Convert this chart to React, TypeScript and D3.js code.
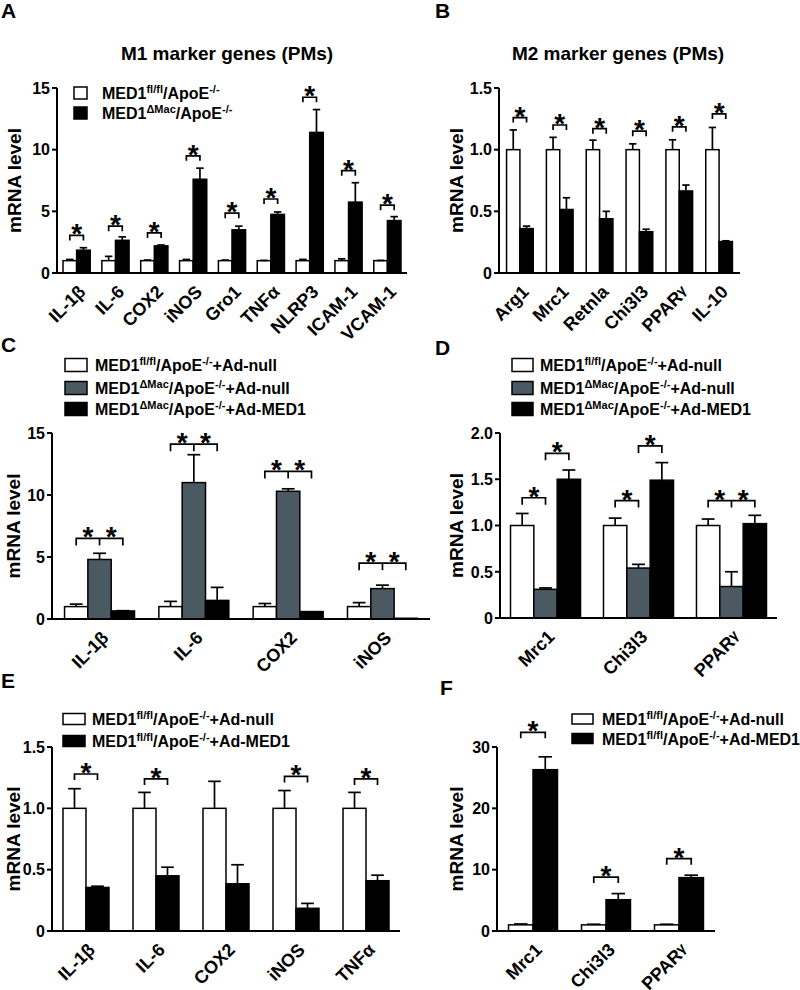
import React from "react";
import * as d3 from "d3";

// ---------------- Data ----------------
// Panel A: M1 marker genes (PMs)
const catsA = ["IL-1β", "IL-6", "COX2", "iNOS", "Gro1", "TNFα", "NLRP3", "ICAM-1", "VCAM-1"];
const aCtrl = [1, 1, 1, 1, 1, 1, 1, 1, 1];
const aCtrlErr = [0.1, 0.35, 0.05, 0.1, 0.05, 0.02, 0.1, 0.15, 0.02];
const aKO = [1.85, 2.65, 2.2, 7.6, 3.5, 4.75, 11.4, 5.75, 4.25];
const aKOErr = [0.2, 0.28, 0.07, 0.9, 0.3, 0.2, 1.85, 1.57, 0.32];
const aSig = [3.05, 3.8, 3.25, 9.5, 4.85, 6.0, 14.25, 8.3, 5.5];
const ticksA = [0, 5, 10, 15];

// Panel B: M2 marker genes (PMs)
const catsB = ["Arg1", "Mrc1", "Retnla", "Chi3l3", "PPARγ", "IL-10"];
const bCtrl = [1, 1, 1, 1, 1, 1];
const bCtrlErr = [0.16, 0.1, 0.077, 0.047, 0.08, 0.18];
const bKO = [0.36, 0.515, 0.44, 0.335, 0.665, 0.255];
const bKOErr = [0.02, 0.095, 0.06, 0.02, 0.048, 0.006];
const bSig = [1.26, 1.2, 1.17, 1.15, 1.185, 1.29];
const ticksB = [0, 0.5, 1.0, 1.5];

// Panel C
const catsC = ["IL-1β", "IL-6", "COX2", "iNOS"];
const cCtrl = [1, 1, 1, 1];
const cCtrlErr = [0.2, 0.42, 0.25, 0.32];
const cKO = [4.8, 11.0, 10.3, 2.45];
const cKOErr = [0.5, 2.25, 0.2, 0.28];
const cRescue = [0.65, 1.5, 0.6, 0.06];
const cRescueErr = [0.02, 1.05, 0.0, 0.0];
const cSig = [6.5, 14.1, 11.9, 4.5];
const ticksC = [0, 5, 10, 15];

// Panel D
const catsD = ["Mrc1", "Chi3l3", "PPARγ"];
const dCtrl = [1, 1, 1];
const dCtrlErr = [0.13, 0.08, 0.07];
const dKO = [0.31, 0.54, 0.34];
const dKOErr = [0.015, 0.04, 0.16];
const dRescue = [1.5, 1.49, 1.02];
const dRescueErr = [0.1, 0.19, 0.09];
const dSigLow = [1.3, 1.27, 1.27];
const dSigHigh = [1.78, 1.86, null];
const ticksD = [0, 0.5, 1.0, 1.5, 2.0];

// Panel E
const catsE = ["IL-1β", "IL-6", "COX2", "iNOS", "TNFα"];
const eNull = [1, 1, 1, 1, 1];
const eNullErr = [0.16, 0.13, 0.22, 0.145, 0.13];
const eMED1 = [0.355, 0.45, 0.385, 0.185, 0.41];
const eMED1Err = [0.01, 0.07, 0.155, 0.04, 0.045];
const eSig = [1.28, 1.24, null, 1.26, 1.24];
const ticksE = [0, 0.5, 1.0, 1.5];

// Panel F
const catsF = ["Mrc1", "Chi3l3", "PPARγ"];
const fNull = [1, 1, 1];
const fNullErr = [0.15, 0.1, 0.1];
const fMED1 = [26.3, 5.1, 8.7];
const fMED1Err = [2.1, 1.0, 0.4];
const fSig = [32.4, 8.8, 11.8];
const ticksF = [0, 10, 20, 30];

// ---------------- Styles ----------------
const FONT = "'Liberation Sans', Arial, Helvetica, sans-serif";
const WHITE = "#ffffff";
const GRAY = "#4b5a62";
const BLACK = "#000000";

type Series = { values: number[]; errs: number[]; fill: string };
type Bracket = { g: number; a: number; b: number; mid?: number; level: number };
type Part = string | { sup: string };

const lblCtrl: Part[] = ["MED1", { sup: "fl/fl" }, "/ApoE", { sup: "-/-" }];
const lblKO: Part[] = ["MED1", { sup: "ΔMac" }, "/ApoE", { sup: "-/-" }];
const lblCnull: Part[] = [...lblCtrl, "+Ad-null"];
const lblKOnull: Part[] = [...lblKO, "+Ad-null"];
const lblKOmed: Part[] = [...lblKO, "+Ad-MED1"];
const lblCmed: Part[] = [...lblCtrl, "+Ad-MED1"];

function RichText({ parts, x, y, size }: { parts: Part[]; x: number; y: number; size: number }) {
  const supSize = Math.round(size * 0.68);
  const rise = Math.round(size * 0.38);
  let raised = false;
  return (
    <text x={x} y={y} fontFamily={FONT} fontWeight="bold" fontSize={size} fill="#000">
      {parts.map((p, i) => {
        if (typeof p === "string") {
          const dy = raised ? rise : 0;
          raised = false;
          return (
            <tspan key={i} dy={dy} fontSize={size}>
              {p}
            </tspan>
          );
        }
        const dy = raised ? 0 : -rise;
        raised = true;
        return (
          <tspan key={i} dy={dy} fontSize={supSize}>
            {p.sup}
          </tspan>
        );
      })}
    </text>
  );
}

function Legend({
  x, rows, fills, textX, boxW, boxH,
  labels,
}: {
  x: number; rows: number[]; fills: string[]; textX: number; boxW: number; boxH: number; labels: Part[][];
}) {
  return (
    <g>
      {rows.map((cy, i) => (
        <g key={i}>
          <rect x={x} y={cy - boxH / 2} width={boxW} height={boxH} fill={fills[i]} stroke="#000" strokeWidth={1.5} />
          <RichText parts={labels[i]} x={textX} y={cy + 6} size={16} />
        </g>
      ))}
    </g>
  );
}

type PanelProps = {
  x0: number; x1: number; y0: number; yTop: number; max: number;
  ticks: number[]; fmt: (v: number) => string;
  cats: string[]; series: Series[]; brackets: Bracket[];
  padIn: number; padOut: number; ylabelX: number; legOffset?: number;
};

function CatLabel({ text }: { text: string }) {
  // γ drawn slightly smaller and raised, as in the reference
  const i = text.indexOf("γ");
  if (i < 0) return <>{text}</>;
  return (
    <>
      {text.slice(0, i)}
      <tspan fontSize={14} dy={-3}>γ</tspan>
    </>
  );
}

function Panel(p: PanelProps) {
  const y = d3.scaleLinear().domain([0, p.max]).range([p.y0, p.yTop]);
  const x = d3.scaleBand<string>().domain(p.cats).range([p.x0, p.x1]).paddingInner(p.padIn).paddingOuter(p.padOut);
  const xs = d3.scaleBand<number>().domain(d3.range(p.series.length)).range([0, x.bandwidth()]);
  const bw = xs.bandwidth();
  const cx = (g: number, s: number) => (x(p.cats[g]) as number) + (xs(s) as number) + bw / 2;
  const cap = bw * 0.55;
  const leg = p.legOffset ?? 6;
  return (
    <g>
      {/* bars */}
      {p.series.map((s, si) =>
        s.values.map((v, gi) => {
          const bx = (x(p.cats[gi]) as number) + (xs(si) as number);
          const top = y(v);
          return (
            <rect key={`b${si}-${gi}`} x={bx} y={top} width={bw} height={Math.max(0.5, p.y0 - top)}
              fill={s.fill} stroke="#000" strokeWidth={1.5} />
          );
        })
      )}
      {/* error bars */}
      {p.series.map((s, si) =>
        s.values.map((v, gi) => {
          const e = s.errs[gi];
          if (!e) return null;
          const c = cx(gi, si);
          const t = y(v + e);
          return (
            <g key={`e${si}-${gi}`} stroke="#000" strokeWidth={1.7}>
              <line x1={c} x2={c} y1={y(v)} y2={t} />
              <line x1={c - cap / 2} x2={c + cap / 2} y1={t} y2={t} />
            </g>
          );
        })
      )}
      {/* axes */}
      <line x1={p.x0} x2={p.x0} y1={p.y0 + 1} y2={p.yTop} stroke="#000" strokeWidth={2} />
      <line x1={p.x0} x2={p.x1} y1={p.y0} y2={p.y0} stroke="#000" strokeWidth={2} />
      {p.ticks.map((t) => (
        <g key={`t${t}`}>
          <line x1={p.x0 - 5} x2={p.x0} y1={y(t)} y2={y(t)} stroke="#000" strokeWidth={2} />
          <text x={p.x0 - 7} y={y(t)} dy="0.36em" textAnchor="end" fontFamily={FONT} fontWeight="bold" fontSize={16}>
            {p.fmt(t)}
          </text>
        </g>
      ))}
      {/* category labels */}
      {p.cats.map((c, gi) => {
        const center = (x(c) as number) + x.bandwidth() / 2;
        const ax = center + 10;
        const ay = p.y0 + 20;
        return (
          <text key={`c${gi}`} transform={`translate(${ax},${ay}) rotate(-45)`} textAnchor="end"
            fontFamily={FONT} fontWeight="bold" fontSize={18}>
            <CatLabel text={c} />
          </text>
        );
      })}
      {/* y label */}
      <text transform={`translate(${p.ylabelX},${(p.y0 + p.yTop) / 2}) rotate(-90)`} textAnchor="middle"
        fontFamily={FONT} fontWeight="bold" fontSize={19}>
        mRNA level
      </text>
      {/* significance brackets */}
      {p.brackets.map((b, i) => {
        const xa = cx(b.g, b.a);
        const xb = cx(b.g, b.b);
        const yb = y(b.level);
        const stars = b.mid !== undefined
          ? [(xa + cx(b.g, b.mid)) / 2, (cx(b.g, b.mid) + xb) / 2]
          : [(xa + xb) / 2];
        return (
          <g key={`s${i}`}>
            <path d={`M${xa},${yb + leg}V${yb}H${xb}V${yb + leg}`} fill="none" stroke="#000" strokeWidth={1.7} />
            {b.mid !== undefined && (
              <line x1={cx(b.g, b.mid)} x2={cx(b.g, b.mid)} y1={yb} y2={yb + leg} stroke="#000" strokeWidth={1.7} />
            )}
            {stars.map((sx, k) => (
              <text key={k} x={sx} y={yb + 8} textAnchor="middle" fontFamily={FONT} fontWeight="bold" fontSize={28}>
                *
              </text>
            ))}
          </g>
        );
      })}
    </g>
  );
}

const fmtInt = (v: number) => d3.format("d")(v);
const fmt1 = (v: number) => (v === 0 ? "0" : d3.format(".1f")(v));

function pairBrackets(levels: (number | null)[]): Bracket[] {
  const out: Bracket[] = [];
  levels.forEach((l, g) => {
    if (l !== null) out.push({ g, a: 0, b: 1, level: l });
  });
  return out;
}

function PanelLetter({ x, y, t }: { x: number; y: number; t: string }) {
  return (
    <text x={x} y={y} fontFamily={FONT} fontWeight="bold" fontSize={21}>
      {t}
    </text>
  );
}

export default function App() {
  const dBrackets: Bracket[] = [];
  dSigLow.forEach((l, g) => {
    if (dSigHigh[g] === null) dBrackets.push({ g, a: 0, b: 2, mid: 1, level: l });
    else dBrackets.push({ g, a: 0, b: 1, level: l });
  });
  dSigHigh.forEach((l, g) => {
    if (l !== null) dBrackets.push({ g, a: 1, b: 2, level: l });
  });
  const cBrackets: Bracket[] = cSig.map((l, g) => ({ g, a: 0, b: 2, mid: 1, level: l }));

  return (
    <svg width={800} height={990} viewBox="0 0 800 990"
      style={{ position: "absolute", left: 0, top: 0, display: "block", background: "#fff" }}>
      <rect x={0} y={0} width={800} height={990} fill="#fff" />

      {/* A */}
      <PanelLetter x={1} y={18} t="A" />
      <text x={227} y={60} textAnchor="middle" fontFamily={FONT} fontWeight="bold" fontSize={19}>
        M1 marker genes (PMs)
      </text>
      <Panel x0={57} x1={407} y0={273} yTop={88} max={15} ticks={ticksA} fmt={fmtInt} cats={catsA}
        series={[
          { values: aCtrl, errs: aCtrlErr, fill: WHITE },
          { values: aKO, errs: aKOErr, fill: BLACK },
        ]}
        brackets={pairBrackets(aSig)} padIn={0.3} padOut={0.155} ylabelX={21} legOffset={5} />
      <Legend x={74} rows={[93, 113]} fills={[WHITE, BLACK]} textX={102} boxW={13} boxH={12}
        labels={[lblCtrl, lblKO]} />

      {/* B */}
      <PanelLetter x={435} y={18} t="B" />
      <text x={618} y={60} textAnchor="middle" fontFamily={FONT} fontWeight="bold" fontSize={19}>
        M2 marker genes (PMs)
      </text>
      <Panel x0={499} x1={740} y0={273} yTop={88} max={1.5} ticks={ticksB} fmt={fmt1} cats={catsB}
        series={[
          { values: bCtrl, errs: bCtrlErr, fill: WHITE },
          { values: bKO, errs: bKOErr, fill: BLACK },
        ]}
        brackets={pairBrackets(bSig)} padIn={0.33} padOut={0.19} ylabelX={463} legOffset={5} />

      {/* C */}
      <PanelLetter x={1} y={352} t="C" />
      <Legend x={65} rows={[365, 388, 409]} fills={[WHITE, GRAY, BLACK]} textX={95} boxW={22} boxH={13}
        labels={[lblCnull, lblKOnull, lblKOmed]} />
      <Panel x0={52} x1={430} y0={619} yTop={433} max={15} ticks={ticksC} fmt={fmtInt} cats={catsC}
        series={[
          { values: cCtrl, errs: cCtrlErr, fill: WHITE },
          { values: cKO, errs: cKOErr, fill: GRAY },
          { values: cRescue, errs: cRescueErr, fill: BLACK },
        ]}
        brackets={cBrackets} padIn={0.258} padOut={0.133} ylabelX={20} legOffset={7} />

      {/* D */}
      <PanelLetter x={435} y={355} t="D" />
      <Legend x={512} rows={[365, 388, 409]} fills={[WHITE, GRAY, BLACK]} textX={540} boxW={21} boxH={13}
        labels={[lblCnull, lblKOnull, lblKOmed]} />
      <Panel x0={500} x1={777} y0={618} yTop={433} max={2} ticks={ticksD} fmt={fmt1} cats={catsD}
        series={[
          { values: dCtrl, errs: dCtrlErr, fill: WHITE },
          { values: dKO, errs: dKOErr, fill: GRAY },
          { values: dRescue, errs: dRescueErr, fill: BLACK },
        ]}
        brackets={dBrackets} padIn={0.247} padOut={0.113} ylabelX={463} legOffset={7} />

      {/* E */}
      <PanelLetter x={1} y={688} t="E" />
      <Legend x={63} rows={[719, 741]} fills={[WHITE, BLACK]} textX={92} boxW={22} boxH={11}
        labels={[lblCnull, lblCmed]} />
      <Panel x0={52} x1={400} y0={931} yTop={747} max={1.5} ticks={ticksE} fmt={fmt1} cats={catsE}
        series={[
          { values: eNull, errs: eNullErr, fill: WHITE },
          { values: eMED1, errs: eMED1Err, fill: BLACK },
        ]}
        brackets={pairBrackets(eSig)} padIn={0.343} padOut={0.157} ylabelX={20} legOffset={6} />

      {/* F */}
      <PanelLetter x={440} y={695} t="F" />
      <Legend x={572} rows={[719, 738.5]} fills={[WHITE, BLACK]} textX={602} boxW={21} boxH={10}
        labels={[lblCnull, lblCmed]} />
      <Panel x0={497} x1={715} y0={931} yTop={747} max={30} ticks={ticksF} fmt={fmtInt} cats={catsF}
        series={[
          { values: fNull, errs: fNullErr, fill: WHITE },
          { values: fMED1, errs: fMED1Err, fill: BLACK },
        ]}
        brackets={pairBrackets(fSig)} padIn={0.329} padOut={0.158} ylabelX={463} legOffset={6} />
    </svg>
  );
}
